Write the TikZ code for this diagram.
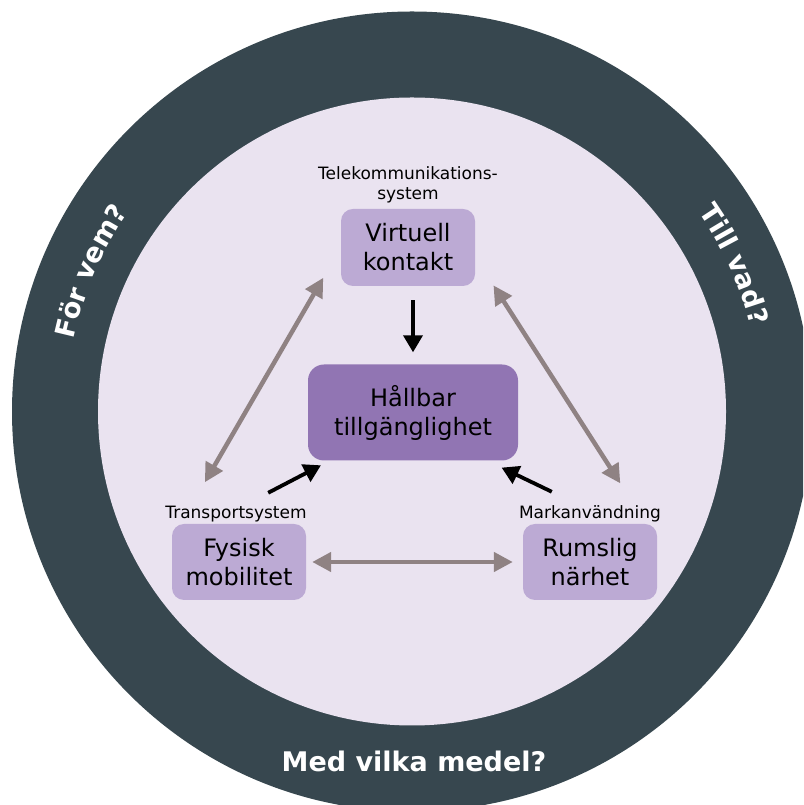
\documentclass[tikz,border=0pt]{standalone}
\usepackage{fontspec}
\setmainfont{DejaVu Sans}
\usetikzlibrary{positioning,arrows.meta,decorations.text}

\definecolor{ringgray}{HTML}{37474F}
\definecolor{discbg}{HTML}{EAE3F0}
\definecolor{boxlight}{HTML}{BCAAD4}
\definecolor{boxdark}{HTML}{9175B3}
\definecolor{duogray}{HTML}{8F8283}

\newcommand\ringfont{\bfseries\fontsize{27}{32}\selectfont}

\tikzset{
  sidebox/.style={fill=boxlight, rounded corners=12pt, minimum width=134pt,
    minimum height=77pt, align=center, inner sep=0pt,
    font=\fontsize{24}{29}\selectfont},
  mainbox/.style={sidebox, fill=boxdark, rounded corners=16pt,
    minimum width=210pt, minimum height=96pt},
  smalllab/.style={font=\fontsize{17}{20}\selectfont, align=center, inner sep=0pt},
  duo/.style={draw=duogray, line width=4.5pt,
    {Triangle[length=19pt,width=19pt]}-{Triangle[length=19pt,width=19pt]}},
  push/.style={draw=black, line width=3.8pt, -{Triangle[length=17pt,width=19pt]}},
}

\begin{document}
\begin{tikzpicture}[x=1pt,y=1pt]

\useasboundingbox (0,0) rectangle (803,805);
\fill[white] (0,0) rectangle (803,805);

% RING

\coordinate (mid) at (412,393.5);
\begin{scope}
\clip (0,0) rectangle (803,805);
\fill[ringgray] (mid) circle[radius=400];
\end{scope}
\fill[discbg] (mid) circle[radius=314];

\path[decorate, decoration={text along path, text align=center,
  text={|\ringfont\color{white}|För vem?}}]
  ([shift={(200:346)}]mid) arc[start angle=200, end angle=113, radius=346];
\path[decorate, decoration={text along path, text align=center,
  text={|\ringfont\color{white}|Till vad?}}]
  ([shift={(68:349)}]mid) arc[start angle=68, end angle=-19, radius=349];
\node[font=\ringfont, text=white, inner sep=0pt, anchor=base] (medel) at (414,33) {Med vilka medel?};

% BOXES

\node[mainbox] (hall) at (413,392.5) {Hållbar\\tillgänglighet};
\node[sidebox] (virt) at (408,557.5) {Virtuell\\kontakt};
\node[sidebox, minimum height=76pt] (fys) at (239,243) {Fysisk\\mobilitet};
\node[sidebox, minimum height=76pt] (rum) at (590,243) {Rumslig\\närhet};

\node[smalllab, above=6pt of virt] (virtlab) {Telekommunikations-\\system};
\node[smalllab, above=2pt of fys, xshift=-3pt] (fyslab) {Transportsystem};
\node[smalllab, above=2pt of rum] (rumlab) {Markanvändning};

% ARROWS

\draw[duo, shorten <=35pt, shorten >=48pt] (virt.west) -- ([xshift=9pt]fys.north west);
\draw[duo, shorten <=45pt, shorten >=48pt] ([xshift=-6pt]virt.east) -- ([xshift=-11pt]rum.north east);
\draw[duo, shorten <=6pt, shorten >=10pt] (fys) -- (rum);

\coordinate (fystail) at ([shift={(-38pt,31pt)}]fys.north east);
\coordinate (rumtail) at ([shift={(29pt,32pt)}]rum.north west);
\draw[push, shorten <=14pt, shorten >=12pt] (virt.south -| hall.north) -- (hall.north);
\draw[push, shorten >=10pt] (fystail) -- ([xshift=22pt]hall.south west);
\draw[push, shorten >=16pt] (rumtail) -- ([xshift=-31pt]hall.south east);

\end{tikzpicture}
\end{document}
